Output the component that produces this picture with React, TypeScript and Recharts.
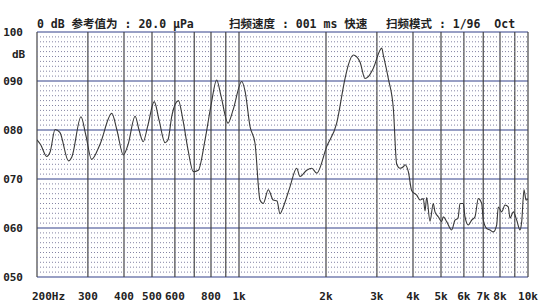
import React from "react";
import {
  LineChart,
  Line,
  XAxis,
  YAxis,
  CartesianGrid,
  ReferenceLine,
} from "recharts";

// frequency (Hz) / level (dB)
const freqs = [
  200, 206, 216, 222, 231, 240, 257, 264, 284, 295, 309, 330, 363, 378, 398, 413,
  437, 451, 466, 484, 509, 529, 555, 568, 586, 617, 640, 666, 695, 723, 763, 800,
  837, 866, 916, 953, 1022, 1049, 1092, 1136, 1182, 1213, 1263, 1314, 1354, 1386,
  1423, 1501, 1583, 1626, 1715, 1785, 1857, 2011, 2178, 2327, 2390, 2486, 2622,
  2729, 2802, 2916, 3118, 3158, 3286, 3420, 3513, 3606, 3703, 3754, 3854, 3960,
  4120, 4230, 4343, 4402, 4461, 4580, 4702, 4766, 4893, 5028, 5093, 5232, 5445,
  5590, 5725, 5818, 5973, 6053, 6214, 6386, 6556, 6730, 6915, 7004, 7194, 7387,
  7584, 7791, 7891, 8110, 8325, 8546, 8663, 8896, 9140, 9382, 9511, 9688, 9842,
  10000,
];
const levels = [
  78.0, 77.0, 74.6, 75.5, 80.1, 79.5, 73.7, 74.5, 82.7, 79.0, 74.0, 77.0, 83.4, 80.0,
  74.9, 77.0, 82.8, 80.0, 77.6, 81.0, 85.8, 82.0, 77.4, 78.0, 83.0, 86.0, 82.0, 76.0,
  71.5, 71.8, 78.0, 85.0, 90.2, 87.0, 81.4, 84.0, 89.9, 88.0, 80.7, 77.3, 65.7, 65.0,
  67.8, 65.7, 65.5, 62.9, 64.3, 68.4, 72.2, 70.5, 71.8, 72.2, 71.2, 76.6, 81.4, 90.5,
  93.3, 95.3, 93.9, 90.5, 90.9, 92.6, 96.7, 95.3, 90.5, 84.4, 73.0, 72.2, 72.5, 72.9,
  71.5, 67.6, 66.7, 65.7, 66.0, 63.5, 66.2, 61.4, 65.0, 63.3, 62.3, 61.3, 62.3, 61.3,
  59.6, 61.6, 62.0, 65.0, 65.0, 62.3, 60.6, 61.6, 62.3, 66.0, 65.0, 61.6, 59.9, 59.6,
  59.2, 60.6, 64.3, 63.3, 64.7, 64.3, 62.0, 63.3, 61.6, 59.6, 61.3, 67.8, 65.7, 66.0,
];

const gridFreqs = [
  200, 300, 400, 500, 600, 700, 800, 900, 1000, 2000, 3000, 4000, 5000, 6000, 7000,
  8000, 9000, 10000,
];
const freqLabels: Record<number, string> = {
  200: "200Hz",
  300: "300",
  400: "400",
  500: "500",
  600: "600",
  800: "800",
  1000: "1k",
  2000: "2k",
  3000: "3k",
  4000: "4k",
  5000: "5k",
  6000: "6k",
  7000: "7k",
  8000: "8k",
  10000: "10k",
};
const dbTicks = [50, 60, 70, 80, 90, 100];
const dbMinor = Array.from({ length: 49 }, (_, i) => 51 + i).filter((v) => v % 10 !== 0);

const data = freqs.map((f, i) => ({ f, db: levels[i] }));

const mono = "'DejaVu Sans Mono', 'Liberation Mono', 'Noto Sans CJK SC', monospace";
const ink = "#222";

function FreqTick({ x, y, payload }: any) {
  const label = freqLabels[payload.value];
  if (!label) return null;
  const first = payload.value === 200;
  return (
    <text
      x={first ? x - 5 : x}
      y={y + 15}
      textAnchor={first ? "start" : "middle"}
      fontFamily={mono}
      fontWeight="bold"
      fontSize={11}
      fill={ink}
    >
      {label}
    </text>
  );
}

function DbTick({ x, y, payload }: any) {
  return (
    <text
      x={x - 6}
      y={y + 4}
      textAnchor="end"
      fontFamily={mono}
      fontWeight="bold"
      fontSize={11}
      fill={ink}
    >
      {String(payload.value).padStart(3, "0")}
    </text>
  );
}

const headStyle: React.CSSProperties = {
  position: "absolute",
  top: 17,
  fontFamily: mono,
  fontWeight: "bold",
  fontSize: 11.5,
  lineHeight: "14px",
  whiteSpace: "pre",
  color: ink,
};

export default function App() {
  return (
    <div style={{ position: "relative", width: 550, height: 307, background: "#fff" }}>
      <style>{"body{margin:0}"}</style>
      <div style={{ ...headStyle, left: 37 }}>0 dB 参考值为 : 20.0 μPa</div>
      <div style={{ ...headStyle, left: 229 }}>扫频速度 : 001 ms 快速</div>
      <div style={{ ...headStyle, left: 386 }}>扫频模式 : 1/96  Oct</div>
      <div style={{ ...headStyle, fontSize: 11, top: 48, left: 12 }}>dB</div>
      <LineChart
        width={550}
        height={307}
        data={data}
        margin={{ top: 32, right: 22, bottom: 0, left: 0 }}
      >
        {dbMinor.map((v) => (
          <ReferenceLine
            key={v}
            y={v}
            stroke="#8484a4"
            strokeDasharray="1 2"
            strokeWidth={1}
          />
        ))}
        <CartesianGrid vertical={false} stroke="#33408a" strokeWidth={1.2} />
        <CartesianGrid horizontal={false} stroke="#444" strokeWidth={1.2} />
        <XAxis
          dataKey="f"
          type="number"
          scale="log"
          domain={[200, 10000]}
          ticks={gridFreqs}
          interval={0}
          height={30}
          axisLine={false}
          tickLine={false}
          tick={<FreqTick />}
          allowDataOverflow
        />
        <YAxis
          type="number"
          domain={[50, 100]}
          ticks={dbTicks}
          interval={0}
          width={37}
          axisLine={false}
          tickLine={false}
          tick={<DbTick />}
        />
        <Line
          dataKey="db"
          type="monotone"
          stroke="#383838"
          strokeWidth={1.1}
          dot={false}
          isAnimationActive={false}
        />
      </LineChart>
    </div>
  );
}
